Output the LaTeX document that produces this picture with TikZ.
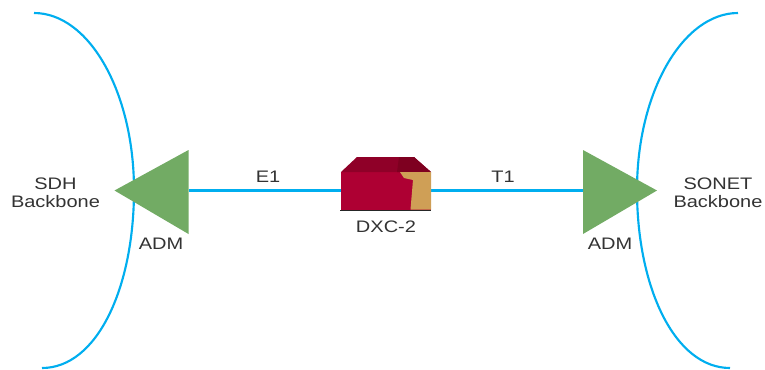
\documentclass[tikz,border=0pt]{standalone}
\usepackage{fontspec}
\setmainfont[FakeStretch=1.2]{Liberation Sans}
\definecolor{linkblue}{HTML}{00AEEF}
\definecolor{admgreen}{HTML}{72AB64}
\definecolor{boxred}{HTML}{AE0033}
\definecolor{boxdark}{HTML}{8F0028}
\definecolor{boxdarker}{HTML}{7E0020}
\definecolor{boxtan}{HTML}{CF9F56}
\definecolor{txt}{HTML}{333333}
\tikzset{
  link/.style={draw=linkblue,line width=1.6pt},
  adm/.style={fill=admgreen,draw=none},
  lbl/.style={font=\fontsize{12.5pt}{14.2pt}\selectfont,text=txt,inner sep=0pt,align=center}
}
\begin{document}
\begin{tikzpicture}[x=0.75pt,y=-0.75pt]
\useasboundingbox (0,0) rectangle (765,369);
% backbones
\coordinate (sdhTop) at (34,13);
\coordinate (sdhBot) at (42,368);
\coordinate (sonetTop) at (738,13);
\coordinate (sonetBot) at (730,368);
\draw[link] (sdhTop) .. controls (89,13) and (134,92) .. (134,190) .. controls (134,288) and (97,368) .. (sdhBot);
\draw[link] (sonetTop) .. controls (683,13) and (637,92) .. (637,190) .. controls (637,288) and (675,368) .. (sonetBot);
% routers
\coordinate (admL) at (188.5,190.5);
\coordinate (admR) at (583,190.5);
\node[minimum width=67.5pt,minimum height=28.5pt,inner sep=0pt,fill=boxred] (dxc) at (386,190.5) {};
\draw[link] (admL) -- (dxc);
\draw[link] (dxc) -- (admR);
\fill[adm] (188.5,150) -- (188.5,234) -- (114.5,190.5) -- cycle;
\fill[adm] (583,150) -- (583,234) -- (657,190.5) -- cycle;
\fill[boxred] (341,172) rectangle (431,210);
\fill[boxdark] (357,157) -- (414,157) -- (431,172) -- (341,172) -- cycle;
\fill[boxdarker] (399,157) -- (414,157) -- (431,172) -- (397,172) -- cycle;
\fill[boxtan] (400,172) -- (431,172) -- (431,209.5) -- (410.5,209.5) -- (413,180) -- (404,178) -- cycle;
\draw[line width=1.1pt,draw=black!85] (340,210.5) -- (431,210.5);
% labels
\node[lbl] (sdh) at (55.5,193) {SDH\\[-0.5pt]Backbone};
\node[lbl] (sonet) at (718,193) {SONET\\[-0.5pt]Backbone};
\node[lbl] (a1) at (161,244) {ADM};
\node[lbl] (a2) at (610,244) {ADM};
\node[lbl] (e1) at (268,177) {E1};
\node[lbl] (t1) at (503,177) {T1};
\node[lbl] (dx) at (386,227) {DXC-2};
\end{tikzpicture}
\end{document}
